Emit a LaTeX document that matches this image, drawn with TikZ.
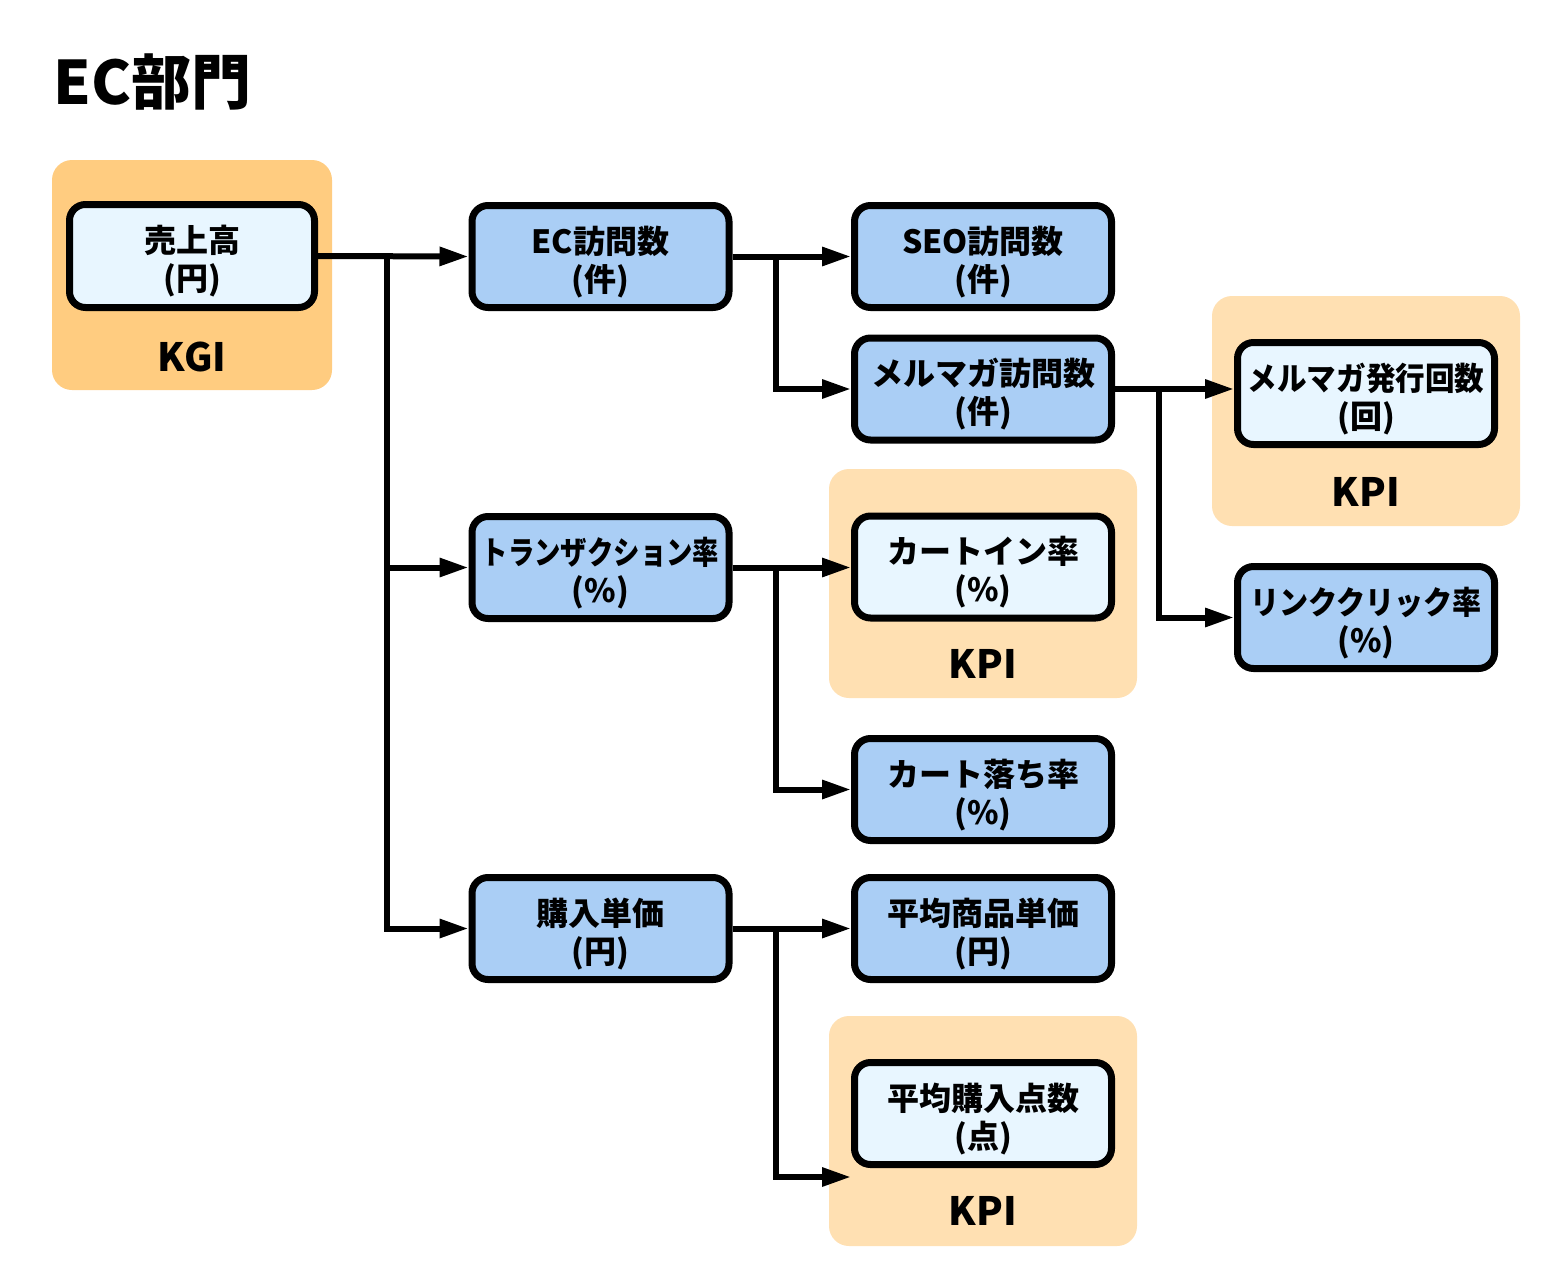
\documentclass[tikz,border=0pt]{standalone}
\usepackage{fontspec}
\usepackage{graphicx}
\setmainfont{Noto Sans CJK JP}
\usetikzlibrary{arrows.meta,calc}
\definecolor{kgibg}{HTML}{FFCC80}
\definecolor{kpibg}{HTML}{FFE0B2}
\definecolor{boxblue}{HTML}{AACEF5}
\definecolor{boxlight}{HTML}{E8F6FF}
\newcommand\mystrut{\rule{0pt}{38pt}}
\tikzset{
  box/.style={draw=black, line width=7pt, rounded corners=16pt,
    minimum width=257pt, minimum height=102pt, align=center,
    font=\bfseries\fontsize{32}{38}\selectfont, inner sep=0pt},
  bluebox/.style={box, fill=boxblue},
  lightbox/.style={box, fill=boxlight},
  bgarea/.style={rounded corners=20pt},
  tag/.style={font=\bfseries\fontsize{39}{39}\selectfont},
  arr/.style={draw=black, line width=6pt, -{Triangle[length=29pt,width=18pt]}},
}
\begin{document}
\begin{tikzpicture}[x=1pt,y=-1pt]
\useasboundingbox (0,0) rectangle (1568,1287);
\fill[white] (0,0) rectangle (1568,1287);
% title
\node[anchor=base west, inner sep=0pt, font=\bfseries\fontsize{60}{60}\selectfont] (title) at (53,105) {EC部門};
% background areas
\fill[kgibg, bgarea] (52,160) rectangle (332,390);
\fill[kpibg, bgarea] (1212,296) rectangle (1520,526);
\fill[kpibg, bgarea] (829,469) rectangle (1137,698);
\fill[kpibg, bgarea] (829,1016) rectangle (1137,1246);
% tags
\node[tag] (kgi) at (192,357) {KGI};
\node[tag] (kpi1) at (1366,492) {KPI};
\node[tag] (kpi2) at (983,664) {KPI};
\node[tag] (kpi3) at (983,1211) {KPI};
% boxes
\node[lightbox, minimum width=245pt, minimum height=103pt] (uriage) at (192,256) {\mystrut 売上高\\(円)};
\node[bluebox] (ecvisit) at (600.5,256.5) {\mystrut EC訪問数\\(件)};
\node[bluebox] (seo) at (983,256.5) {\mystrut SEO訪問数\\(件)};
\node[bluebox] (mailvisit) at (983,389) {\mystrut メルマガ訪問数\\(件)};
\node[lightbox] (mailissue) at (1366,393.5) {\mystrut\scalebox{0.924}[1]{メルマガ発行回数}\\(回)};
\node[bluebox] (link) at (1366,617.5) {\mystrut\scalebox{0.91}[1]{リンククリック率}\\(\%)};
\node[bluebox] (trans) at (600.5,567.5) {\mystrut\scalebox{0.824}[1]{トランザクション率}\\(\%)};
\node[lightbox] (cartin) at (983,567) {\mystrut カートイン率\\(\%)};
\node[bluebox] (cartdrop) at (983,789.5) {\mystrut カート落ち率\\(\%)};
\node[bluebox] (price) at (600.5,928.5) {\mystrut 購入単価\\(円)};
\node[bluebox] (avgprice) at (983,928.5) {\mystrut 平均商品単価\\(円)};
\node[lightbox] (avgqty) at (983,1113.5) {\mystrut 平均購入点数\\(点)};
\coordinate (qtyin) at ($(avgqty.south west)+(0,9)$);
% connectors
\draw[arr] (uriage.east) -- (ecvisit.west);
\draw[arr] (uriage.east) -- ++(69,0) |- (trans.west);
\draw[arr] (uriage.east) -- ++(69,0) |- (price.west);
\draw[arr] (ecvisit.east) -- (seo.west);
\draw[arr] (ecvisit.east) -- ++(43,0) |- (mailvisit.west);
\draw[arr] (mailvisit.east) -- (mailvisit.east -| mailissue.west);
\draw[arr] (mailvisit.east) -- ++(44,0) |- (link.west);
\draw[arr] (trans.east) -- (trans.east -| cartin.west);
\draw[arr] (trans.east) -- ++(43,0) |- (cartdrop.west);
\draw[arr] (price.east) -- (avgprice.west);
\draw[arr] (price.east) -- ++(43,0) |- (qtyin);
\end{tikzpicture}
\end{document}
